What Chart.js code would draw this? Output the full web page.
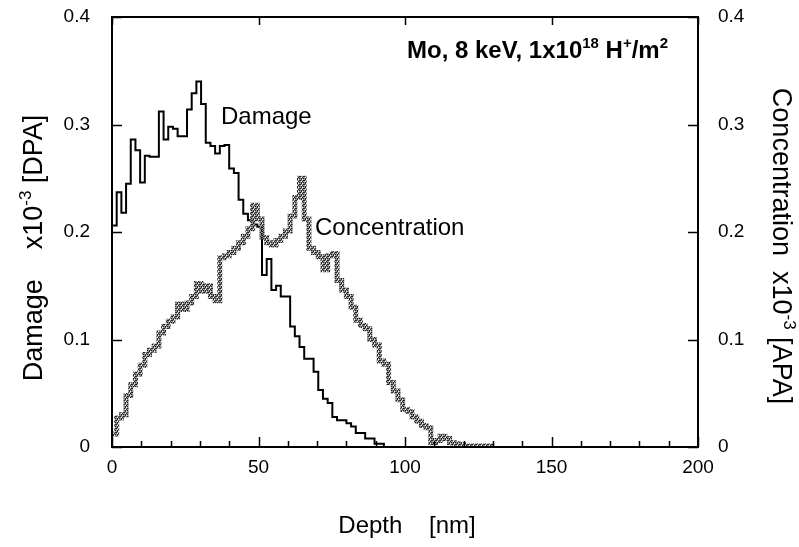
<!DOCTYPE html>
<html>
<head>
<meta charset="utf-8">
<script src="https://cdn.jsdelivr.net/npm/chart.js@4.4.1/dist/chart.umd.min.js"></script>
<style>
  html, body { margin: 0; padding: 0; background: #fff; }
  #wrap { width: 799px; height: 547px; }
</style>
</head>
<body>
<div id="wrap"><canvas id="chart" width="799" height="547"></canvas></div>
<script>
/* DATA */
const binWidth = 1.6; // nm per depth bin

// damage x10^-3 DPA, one value per bin starting at 0 nm
const damage = [
  0.206, 0.237, 0.218, 0.245, 0.286, 0.276, 0.246, 0.271, 0.270, 0.270,
  0.312, 0.286, 0.298, 0.296, 0.289, 0.289, 0.314, 0.329, 0.340, 0.319,
  0.283, 0.280, 0.273, 0.280, 0.281, 0.259, 0.255, 0.230, 0.217, 0.211,
  0.207, 0.205, 0.160, 0.175, 0.146, 0.150, 0.140, 0.140, 0.112, 0.103,
  0.093, 0.082, 0.082, 0.070, 0.053, 0.045, 0.041, 0.028, 0.025, 0.025,
  0.022, 0.019, 0.013, 0.013, 0.008, 0.008, 0.003, 0.003
];

// concentration x10^-3 APA, one value per bin starting at 0 nm
const concentration = [
  0.012, 0.027, 0.030, 0.048, 0.058, 0.068, 0.076, 0.086, 0.090, 0.094,
  0.106, 0.112, 0.117, 0.121, 0.133, 0.128, 0.134, 0.140, 0.152, 0.145,
  0.150, 0.140, 0.136, 0.176, 0.178, 0.181, 0.185, 0.190, 0.196, 0.203,
  0.225, 0.212, 0.195, 0.190, 0.188, 0.192, 0.196, 0.201, 0.215, 0.232,
  0.250, 0.212, 0.185, 0.181, 0.177, 0.165, 0.178, 0.180, 0.155, 0.146,
  0.140, 0.130, 0.118, 0.113, 0.110, 0.100, 0.095, 0.080, 0.077, 0.060,
  0.052, 0.044, 0.035, 0.033, 0.028, 0.024, 0.020, 0.018, 0.004, 0.006,
  0.010, 0.008, 0.004, 0.003, 0.002, 0.001, 0.001, 0.001, 0.001, 0.001,
  0.001
];

const xTicks = [0, 50, 100, 150, 200];
const xMinorStep = 10;
const yTicks = [0, 0.1, 0.2, 0.3, 0.4];
const yTickLabels = ['0', '0.1', '0.2', '0.3', '0.4'];

const FONT = '"Liberation Sans", Arial, Helvetica, sans-serif';

// histogram bins -> step points (left edge of each bin, closing at 0)
function toSteps(values) {
  const pts = values.map((v, i) => ({ x: i * binWidth, y: v }));
  pts.push({ x: values.length * binWidth, y: 0 });
  return pts;
}

// grey speckled pen like the scanned plot
function stipple() {
  const c = document.createElement('canvas');
  c.width = 4; c.height = 4;
  const g = c.getContext('2d');
  g.fillStyle = '#939393';
  g.fillRect(0, 0, 4, 4);
  g.fillStyle = '#222';
  [[0, 0], [2, 1], [1, 3], [3, 2], [3, 0], [1, 2]].forEach(([x, y]) => g.fillRect(x, y, 1, 1));
  g.clearRect(1, 1, 1, 1);
  g.clearRect(2, 3, 1, 1);
  return g.createPattern(c, 'repeat');
}

// text with raised parts: [['Damage  x10'], ['-3', true], ...]
function richWidth(ctx, parts, size, bold) {
  let w = 0;
  parts.forEach(([t, sup]) => {
    ctx.font = (bold ? 'bold ' : '') + (sup ? Math.round(size * 0.62) : size) + 'px ' + FONT;
    w += ctx.measureText(t).width;
  });
  return w;
}
function drawRich(ctx, parts, x, y, size, bold, align) {
  ctx.textBaseline = 'alphabetic';
  ctx.textAlign = 'left';
  let cx = align === 'center' ? x - richWidth(ctx, parts, size, bold) / 2 : x;
  parts.forEach(([t, sup]) => {
    ctx.font = (bold ? 'bold ' : '') + (sup ? Math.round(size * 0.62) : size) + 'px ' + FONT;
    ctx.fillText(t, cx, sup ? y - size * 0.42 : y);
    cx += ctx.measureText(t).width;
  });
}

const framePlugin = {
  id: 'frame',
  afterDatasetsDraw(chart) {
    const { ctx, chartArea: a, scales } = chart;
    ctx.save();
    ctx.strokeStyle = '#000';
    ctx.lineWidth = 2;
    ctx.strokeRect(a.left, a.top, a.right - a.left, a.bottom - a.top);
    ctx.lineWidth = 1.5;
    ctx.beginPath();
    for (let v = 0; v <= 200; v += xMinorStep) {
      const px = Math.round(scales.x.getPixelForValue(v)) + 0.5;
      const len = v % 50 === 0 ? 10 : 6;
      ctx.moveTo(px, a.bottom); ctx.lineTo(px, a.bottom - len);
      if (v % 50 === 0) { ctx.moveTo(px, a.top); ctx.lineTo(px, a.top + 8); }
    }
    yTicks.forEach(v => {
      const py = Math.round(scales.y.getPixelForValue(v)) + 0.5;
      ctx.moveTo(a.left, py); ctx.lineTo(a.left + 10, py);
      const py2 = Math.round(scales.y2.getPixelForValue(v)) + 0.5;
      ctx.moveTo(a.right, py2); ctx.lineTo(a.right - 10, py2);
    });
    ctx.stroke();
    ctx.restore();
  }
};

const textPlugin = {
  id: 'texts',
  afterDraw(chart) {
    const { ctx } = chart;
    ctx.save();
    ctx.fillStyle = '#000';
    drawRich(ctx, [['Mo, 8 keV, 1x10'], ['18', true], [' H'], ['+', true], ['/m'], ['2', true]], 407, 58, 24, true, 'left');
    drawRich(ctx, [['Damage']], 221, 124, 24, false, 'left');
    drawRich(ctx, [['Concentration']], 315, 235, 24, false, 'left');
    drawRich(ctx, [['Depth    [nm]']], 407, 533, 24, false, 'center');

    ctx.translate(42, 248);
    ctx.rotate(-Math.PI / 2);
    drawRich(ctx, [['Damage    x10'], ['-3', true], [' [DPA]']], 0, 0, 27, false, 'center');
    ctx.restore();

    ctx.save();
    ctx.fillStyle = '#000';
    ctx.translate(773, 246);
    ctx.rotate(Math.PI / 2);
    drawRich(ctx, [['Concentration  x10'], ['-3', true], [' [APA]']], 0, 0, 27, false, 'center');
    ctx.restore();
  }
};

const tickFont = { family: FONT, size: 19 };
const noPadY = s => { s.paddingTop = 0; s.paddingBottom = 0; };

new Chart(document.getElementById('chart'), {
  type: 'line',
  data: {
    datasets: [
      {
        label: 'Concentration',
        data: toSteps(concentration),
        yAxisID: 'y2',
        stepped: true,
        borderColor: stipple(),
        borderWidth: 5,
        pointRadius: 0,
        fill: false,
        order: 0
      },
      {
        label: 'Damage',
        data: toSteps(damage),
        yAxisID: 'y',
        stepped: true,
        borderColor: '#000',
        borderWidth: 2,
        pointRadius: 0,
        fill: false,
        order: 1
      }
    ]
  },
  options: {
    responsive: false,
    animation: false,
    layout: { padding: { top: 17, left: 0, right: 0, bottom: 0 } },
    plugins: { legend: { display: false }, tooltip: { enabled: false } },
    scales: {
      x: {
        type: 'linear', min: 0, max: 200,
        afterBuildTicks: s => { s.ticks = xTicks.map(v => ({ value: v })); },
        grid: { display: false, drawTicks: false },
        border: { display: false },
        ticks: { font: tickFont, color: '#000', padding: 9, maxRotation: 0, autoSkip: false },
        afterFit: s => { s.height = 100; s.paddingLeft = 0; s.paddingRight = 0; }
      },
      y: {
        position: 'left', min: 0, max: 0.4,
        afterBuildTicks: s => { s.ticks = yTicks.map(v => ({ value: v })); },
        grid: { display: false, drawTicks: false },
        border: { display: false },
        ticks: { font: tickFont, color: '#000', padding: 22, callback: (v, i) => yTickLabels[i] },
        afterFit: s => { s.width = 112; noPadY(s); }
      },
      y2: {
        position: 'right', min: 0, max: 0.4,
        afterBuildTicks: s => { s.ticks = yTicks.map(v => ({ value: v })); },
        grid: { display: false, drawTicks: false },
        border: { display: false },
        ticks: { font: tickFont, color: '#000', padding: 20, callback: (v, i) => yTickLabels[i] },
        afterFit: s => { s.width = 101; noPadY(s); }
      }
    }
  },
  plugins: [framePlugin, textPlugin]
});
</script>
</body>
</html>
